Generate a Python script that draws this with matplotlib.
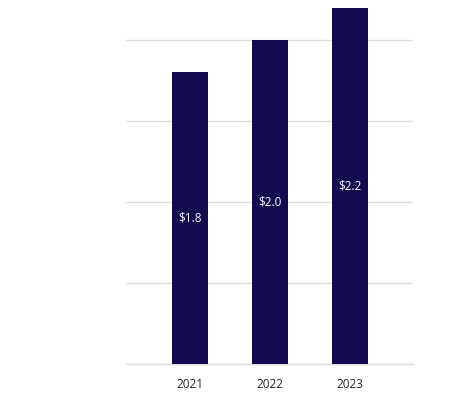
import matplotlib
matplotlib.use("Agg")
import matplotlib.pyplot as plt

# data
years  = ["2021", "2022", "2023"]
values = [1.8, 2.0, 2.2]
labels = ["$1.8", "$2.0", "$2.2"]

BAR_COLOR  = "#130b50"
GRID_COLOR = "#dedede"

plt.rcParams["font.family"] = ["Open Sans", "DejaVu Sans"]

fig = plt.figure(figsize=(4.57, 3.94), dpi=100)
ax = fig.add_axes([0.2757, 0.0761, 0.628, 0.9046])

x = list(range(len(years)))
bars = ax.bar(x, values, width=0.45, color=BAR_COLOR, zorder=3, clip_on=False)

for bar, lab in zip(bars, labels):
    ax.text(bar.get_x() + bar.get_width() / 2, bar.get_height() / 2, lab,
            ha="center", va="center", color="white", fontsize=8.5, zorder=4)

ax.set_xlim(-0.8, 2.7875)
ax.set_ylim(0, 2.2)
ax.set_yticks([0, 0.5, 1.0, 1.5, 2.0])
ax.yaxis.grid(True, color=GRID_COLOR, lw=1)
# baseline drawn unclipped so it isn't cut in half at the axes edge
ax.axhline(0, color=GRID_COLOR, lw=1, zorder=2, clip_on=False)
ax.tick_params(axis="y", length=0, labelleft=False)
ax.set_xticks(x)
ax.set_xticklabels(years, fontsize=8.5, color="#222222")
ax.tick_params(axis="x", length=0, pad=10)
for s in ax.spines.values():
    s.set_visible(False)

fig.savefig("out.png", dpi=100)
